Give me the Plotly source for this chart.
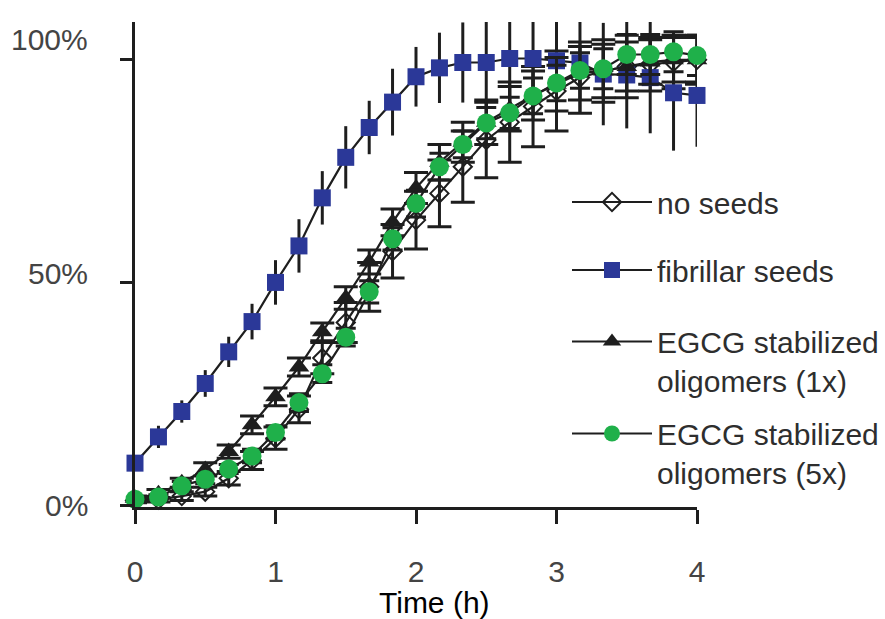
import plotly.graph_objects as go

# Sampling times (h), every 10 min from 0 to 4 h
time_h = [0.0, 0.167, 0.333, 0.5, 0.667, 0.833, 1.0, 1.167, 1.333, 1.5, 1.667, 1.833,
          2.0, 2.167, 2.333, 2.5, 2.667, 2.833, 3.0, 3.167, 3.333, 3.5, 3.667, 3.833, 4.0]

# Normalised signal (%) and standard deviations for each condition
no_seeds = [1.0, 1.2, 2.0, 3.0, 6.0, 10.0, 15.0, 21.5, 33.0, 41.0, 49.0, 57.0, 64.0,
            70.0, 76.0, 82.0, 86.0, 89.5, 93.0, 96.0, 97.5, 98.5, 99.0, 99.5, 100.0]
no_seeds_err = [0.5, 0.5, 1.0, 1.0, 1.5, 2.0, 2.5, 3.0, 3.5, 4.5, 5.5, 6.0, 6.5,
                7.5, 8.0, 8.5, 9.0, 9.0, 9.0, 8.0, 7.0, 7.0, 6.0, 6.0, 5.5]

fibrillar = [9.4, 15.3, 21.0, 27.3, 34.4, 41.2, 50.0, 58.2, 69.0, 78.1, 84.8, 90.5, 96.2,
             98.2, 99.4, 99.4, 100.3, 100.3, 99.8, 99.3, 96.8, 96.6, 96.0, 92.6, 92.0]
fibrillar_err = [1.0, 2.5, 2.5, 3.0, 3.4, 4.0, 5.0, 6.0, 6.0, 7.0, 6.0, 7.5, 6.7,
                 7.9, 9.0, 10.0, 11.0, 11.0, 11.0, 11.0, 11.5, 12.0, 12.5, 13.0, 11.5]

egcg_1x = [1.5, 2.5, 5.0, 8.0, 12.0, 18.0, 24.3, 31.0, 38.9, 46.5, 54.6, 63.5, 71.2,
           77.0, 81.5, 86.0, 89.0, 92.0, 94.5, 97.0, 97.5, 98.5, 99.5, 100.0, 100.0]
egcg_1x_err = [0.5, 1.0, 1.0, 1.5, 1.5, 2.0, 2.0, 2.0, 2.0, 2.5, 2.7, 3.0, 3.5,
               4.0, 4.5, 5.0, 5.0, 5.5, 6.0, 6.0, 6.0, 5.5, 5.0, 5.0, 5.0]

egcg_5x = [1.3, 1.8, 4.3, 5.8, 8.1, 11.0, 16.3, 23.0, 29.5, 37.7, 47.9, 59.8, 67.7,
           76.0, 81.0, 85.8, 88.1, 91.9, 94.8, 97.6, 98.0, 101.2, 101.2, 101.8, 101.0]
egcg_5x_err = [0.5, 0.5, 1.0, 1.0, 1.0, 1.5, 1.5, 2.0, 2.0, 2.0, 2.5, 2.5, 3.0,
               3.0, 3.0, 3.5, 3.5, 4.0, 4.0, 4.0, 4.5, 4.5, 4.5, 4.5, 4.5]

series_names = ["no seeds", "fibrillar seeds",
                "EGCG stabilized<br>oligomers (1x)", "EGCG stabilized<br>oligomers (5x)"]

y_tick_vals = [0, 50, 100]
y_tick_text = ["0%", "50%", "100%"]
x_tick_vals = [0, 1, 2, 3, 4]

INK = "#1e1e1e"
BLUE = "#2b3898"
GREEN = "#1fb04a"
FONT = "Liberation Sans, Arial, sans-serif"

fig = go.Figure()


def add_series(y, err, name, legend, symbol, color, size, line_color, cap):
    fig.add_trace(go.Scatter(
        x=time_h, y=y, name=name, legend=legend,
        mode="lines+markers",
        line=dict(color=INK, width=2.2),
        marker=dict(symbol=symbol, size=size, color=color,
                    line=dict(color=line_color, width=2 if symbol == "diamond-open" else 0)),
        error_y=dict(type="data", array=err, visible=True, color=INK,
                     thickness=3, width=cap),
        cliponaxis=False,
    ))


add_series(no_seeds, no_seeds_err, series_names[0], "legend",
           "diamond-open", INK, 14, INK, 12)
add_series(fibrillar, fibrillar_err, series_names[1], "legend2",
           "square", BLUE, 17, BLUE, 0)
add_series(egcg_1x, egcg_1x_err, series_names[2], "legend3",
           "triangle-up", INK, 18, INK, 12)
add_series(egcg_5x, egcg_5x_err, series_names[3], "legend4",
           "circle", GREEN, 19, GREEN, 10)

# plot area in pixels: x 135..697, y 22..507
PX_L, PX_R, PX_T, PX_B = 135, 697, 22, 507
W, H = 885, 619


def px(xp):
    return (xp - PX_L) / (PX_R - PX_L)


def py(yp):
    return (PX_B - yp) / (PX_B - PX_T)


def cx(xp):
    return xp / W


def cy(yp):
    return 1 - yp / H


legend_common = dict(
    xref="container", yref="container", xanchor="left", yanchor="middle",
    bgcolor="rgba(0,0,0,0)", borderwidth=0, itemwidth=80,
    font=dict(family=FONT, size=30, color="#2e2e2e"),
    valign="top", itemclick=False, itemdoubleclick=False,
)

fig.update_layout(
    width=W, height=H,
    margin=dict(l=PX_L, r=W - PX_R, t=PX_T, b=H - PX_B, autoexpand=False),
    paper_bgcolor="white", plot_bgcolor="white",
    showlegend=True,
    legend=dict(x=cx(567), y=cy(202), **legend_common),
    legend2=dict(x=cx(567), y=cy(270), **legend_common),
    legend3=dict(x=cx(567), y=cy(361), **legend_common),
    legend4=dict(x=cx(567), y=cy(453), **legend_common),
    xaxis=dict(
        range=[0, 4], tickvals=x_tick_vals, showgrid=False, zeroline=False,
        showline=True, linecolor=INK, linewidth=2.5,
        ticks="outside", ticklen=14, tickwidth=2.5, tickcolor=INK,
        tickfont=dict(family=FONT, size=30, color="#444444"),
        ticklabelstandoff=22,
    ),
    yaxis=dict(
        range=[-0.45, 108.5], tickvals=y_tick_vals, showticklabels=False,
        showgrid=False, zeroline=False,
        showline=True, linecolor=INK, linewidth=2.5,
        ticks="outside", ticklen=12, tickwidth=2.5, tickcolor=INK,
    ),
)

# y tick labels, each set slightly above its tick
label_shift = [0, 9, 20]
for v, txt, sh in zip(y_tick_vals, y_tick_text, label_shift):
    fig.add_annotation(x=0, y=v, xref="x", yref="y", text=txt, showarrow=False,
                       xanchor="right", yanchor="middle", xshift=-45, yshift=sh,
                       font=dict(family=FONT, size=30, color="#444444"))

# x axis title
fig.add_annotation(x=px(434), y=py(602), xref="paper", yref="paper", text="Time (h)",
                   showarrow=False, xanchor="center", yanchor="middle",
                   font=dict(family=FONT, size=30, color="black"))

fig.write_html("out.html")
